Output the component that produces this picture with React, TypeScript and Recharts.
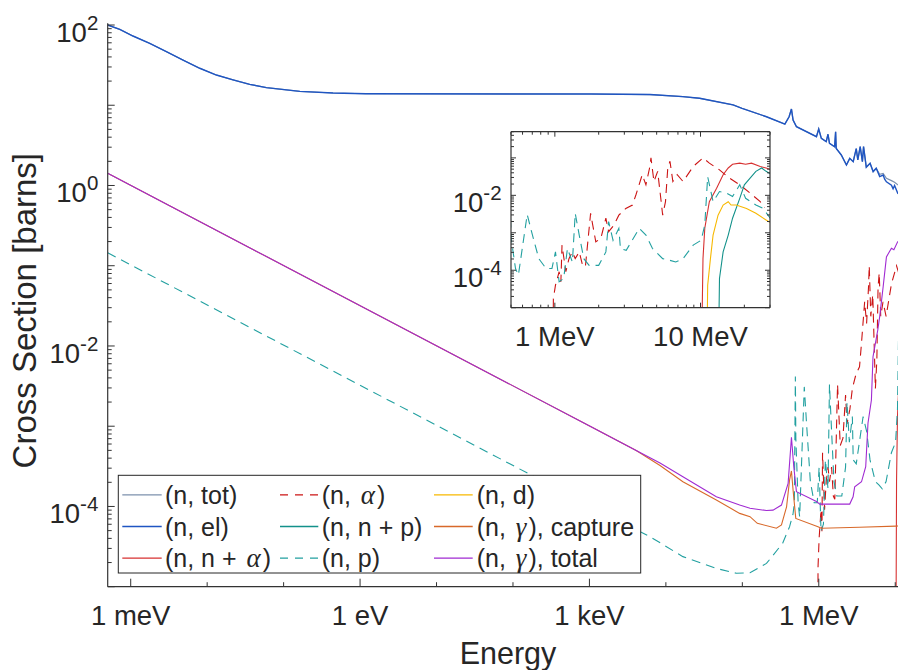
import React from "react";
import { LineChart, Line, XAxis, YAxis, CartesianGrid } from "recharts";

// energies in eV, cross sections in barns
type P = [number, number];

const nEl: P[] = [
  [5e-4, 100], [7.18e-4, 88.3], [1.07e-3, 72.9], [1.77e-3, 59.2], [2.93e-3, 46.5],
  [4.83e-3, 36.6], [8.0e-3, 28.9], [1.32e-2, 23.8], [2.18e-2, 20.7], [3.6e-2, 18.2],
  [5.96e-2, 16.6], [0.163, 14.9], [0.443, 14.2], [1.19, 13.9], [1.05e3, 13.8],
  [6.2e3, 13.6], [1.67e4, 12.8], [2.77e4, 12.2], [7.56e4, 10.1], [9.9e4, 9.16],
  [2.07e5, 7.19], [3.6e5, 5.83], [4.09e5, 7.19], [4.39e5, 8.97], [4.61e5, 6.55],
  [5.1e5, 5.41], [9.32e5, 4.06], [9.98e5, 5.06], [1.08e6, 3.87], [1.25e6, 3.52],
  [1.32e6, 4.35], [1.38e6, 3.36], [1.61e6, 3.04], [1.66e6, 4.68], [1.69e6, 2.9],
  [1.97e6, 2.4], [2.3e6, 1.8], [2.54e6, 2.18], [2.82e6, 1.98], [3.09e6, 2.88],
  [3.24e6, 2.08], [3.48e6, 3.05], [3.72e6, 1.98], [3.85e6, 3.05], [4.18e6, 1.69],
  [4.69e6, 1.89], [5.14e6, 1.49], [5.64e6, 1.64], [6.26e6, 1.29], [6.95e6, 1.35],
  [7.27e6, 1.2], [7.67e6, 1.11], [8.92e6, 1.01], [9.37e6, 0.91], [9.8e6, 1.0],
  [1.078e7, 0.8], [2e7, 0.6],
];

const nTotHigh: P[] = [
  [5.64e6, 1.64], [6.26e6, 1.38], [6.95e6, 1.41], [7.67e6, 1.23], [8.92e6, 1.15],
  [9.8e6, 1.1], [1.078e7, 1.02], [2e7, 0.9],
];

const nNAlpha: P[] = [
  [1.01e7, 1e-7], [1.04e7, 2.04e-4], [1.07e7, 1.32e-3], [1.15e7, 6.76e-3], [1.29e7, 1.55e-2],
  [1.43e7, 3.55e-2], [1.55e7, 5.37e-2], [1.66e7, 6.76e-2], [1.86e7, 7.24e-2], [2.04e7, 6.76e-2],
  [2.24e7, 7.24e-2], [2.57e7, 5.89e-2], [2.82e7, 5.37e-2], [3.09e7, 4.79e-2],
];

const nAlpha: P[] = [
  [9.7e5, 1e-7], [9.77e5, 1.74e-5], [1.01e6, 3.98e-5], [1.07e6, 9.12e-5], [1.1e6, 4.9e-5],
  [1.12e6, 4.68e-4], [1.19e6, 9.12e-5], [1.25e6, 2.04e-4], [1.32e6, 3.09e-4], [1.38e6, 2.04e-4],
  [1.47e6, 3.09e-4], [1.55e6, 1.35e-4], [1.62e6, 1.23e-4], [1.76e6, 3.31e-3], [1.91e6, 5.75e-4],
  [2.07e6, 7.08e-4], [2.24e6, 2.45e-3], [2.34e6, 1.07e-3], [2.55e6, 1.62e-3], [2.75e6, 2.95e-3],
  [3.07e6, 4.47e-3], [3.41e6, 5.5e-3], [3.6e6, 1.02e-2], [3.98e6, 3.55e-2], [4.22e6, 1.91e-2],
  [4.47e6, 5.37e-2], [4.57e6, 0.1], [4.79e6, 2.34e-2], [5.08e6, 4.37e-2], [5.37e6, 6.76e-3],
  [5.5e6, 2.95e-3], [5.75e6, 6.76e-3], [5.96e6, 5.37e-2], [6.17e6, 8.13e-2], [6.46e6, 2.34e-2],
  [6.92e6, 3.55e-2], [7.59e6, 2.34e-2], [8.91e6, 5.89e-2], [1.04e7, 0.1], [1.15e7, 7.24e-2],
  [1.35e7, 4.79e-2], [1.58e7, 2.88e-2], [1.86e7, 1.91e-2], [2.19e7, 1.15e-2], [2.57e7, 6.76e-3],
  [2.75e7, 4.68e-3],
];

const nNP: P[] = [
  [1.32e7, 1e-7], [1.35e7, 6.03e-5], [1.43e7, 3.09e-4], [1.55e7, 8.71e-4], [1.66e7, 2.45e-3],
  [1.86e7, 8.32e-3], [2e7, 1.91e-2], [2.19e7, 2.88e-2], [2.4e7, 4.37e-2], [2.63e7, 5.37e-2],
  [2.82e7, 4.37e-2], [3.09e7, 3.55e-2],
];

const nP: P[] = [
  [5e-4, 0.145], [1.05e3, 1.0e-4], [6.2e3, 4.2e-5], [1.67e4, 2.37e-5], [4.57e4, 1.69e-5],
  [8.38e4, 1.47e-5], [1.26e5, 1.49e-5], [2.07e5, 1.95e-5], [3.37e5, 3.48e-5], [4.15e5, 5.6e-5],
  [4.6e5, 8.0e-5], [4.79e5, 1.1e-4], [4.94e5, 4.17e-3], [5.01e5, 7.08e-4], [5.37e5, 1.11e-4],
  [5.62e5, 7.41e-5], [6.46e5, 3.09e-3], [6.92e5, 1.07e-3], [7.76e5, 2.04e-4], [8.71e5, 1.11e-4],
  [9.55e5, 1.11e-4], [1.01e6, 3.09e-4], [1.07e6, 4.9e-5], [1.15e6, 6.03e-5], [1.22e6, 3.8e-4],
  [1.32e6, 1.66e-4], [1.38e6, 3.31e-3], [1.47e6, 8.71e-4], [1.58e6, 2.04e-4], [1.72e6, 1.35e-4],
  [2.0e6, 1.35e-4], [2.24e6, 3.09e-4], [2.34e6, 2.0e-3], [2.51e6, 6.31e-4], [2.75e6, 1.32e-3],
  [2.82e6, 3.8e-4], [3.09e6, 3.39e-4], [3.8e6, 1.32e-3], [4.22e6, 8.71e-4], [4.68e6, 3.8e-4],
  [5.5e6, 2.04e-4], [6.11e6, 1.86e-4], [6.76e6, 1.66e-4], [7.59e6, 2.04e-4], [8.91e6, 4.68e-4],
  [1.01e7, 6.31e-4], [1.07e7, 1.62e-3], [1.12e7, 3.16e-2], [1.22e7, 6.76e-3], [1.35e7, 1.26e-2],
  [1.51e7, 1.15e-2], [1.66e7, 9.33e-3], [1.86e7, 1.91e-2], [2.04e7, 8.32e-3], [2.4e7, 5.5e-3],
  [2.69e7, 4.47e-3], [3.02e7, 2.4e-3],
];

const nD: P[] = [
  [1.1e7, 1e-7], [1.12e7, 3.98e-5], [1.17e7, 2.04e-4], [1.22e7, 8.71e-4], [1.32e7, 2.95e-3],
  [1.43e7, 5.5e-3], [1.55e7, 6.76e-3], [1.62e7, 5.5e-3], [1.76e7, 5.5e-3], [2.07e7, 4.47e-3],
  [2.4e7, 3.31e-3], [2.82e7, 2.19e-3], [3.09e7, 1.78e-3],
];

const nCapture: P[] = [
  [5e-4, 1.42], [1.05e3, 9.83e-4], [4.09e3, 4.98e-4], [8.38e3, 3.24e-4], [1.67e4, 2.03e-4],
  [4.57e4, 1.2e-4], [9.23e4, 8.2e-5], [1.26e5, 7.45e-5], [1.57e5, 6.17e-5], [2.79e5, 5.35e-5],
  [3.25e5, 5.88e-5], [3.79e5, 9.9e-5], [4.15e5, 2.14e-4], [4.39e5, 2.77e-4], [4.61e5, 1.6e-4],
  [5.0e5, 7.1e-5], [9.76e5, 5.6e-5], [1.08e6, 5.35e-5], [3.4e6, 5.5e-5], [1.02e7, 5.69e-5],
  [2e7, 5.75e-5],
];

const nGammaTot: P[] = [
  [5e-4, 1.42], [1.05e3, 9.83e-4], [4.09e3, 4.98e-4], [8.38e3, 3.47e-4], [1.67e4, 2.34e-4],
  [4.57e4, 1.32e-4], [9.23e4, 1.04e-4], [1.26e5, 9.48e-5], [2.07e5, 8.9e-5], [2.52e5, 9.0e-5],
  [3.25e5, 1.04e-4], [3.97e5, 1.94e-4], [4.39e5, 7.28e-4], [4.71e5, 3.13e-4], [5.1e5, 1.53e-4],
  [9.32e5, 1.15e-4], [1.03e6, 1.07e-4], [2.54e6, 1.07e-4], [2.81e6, 1.32e-4], [2.95e6, 1.76e-4],
  [3.62e6, 2.03e-4], [4.11e6, 3.13e-4], [4.4e6, 1.09e-3], [4.88e6, 2.12e-3], [5.12e6, 7.35e-3],
  [5.91e6, 1.58e-2], [6.26e6, 2.32e-2], [6.95e6, 5.48e-2], [7.67e6, 0.129], [8.92e6, 0.165],
  [9.6e6, 0.158], [1.078e7, 0.2], [2e7, 0.25],
];

const nTot: P[] = nEl.filter((p) => p[0] < 5.5e6).concat(nTotHigh);

const mainXLabelTicks = [1e-3, 1, 1e3, 1e6];
const mainXLabels = ["1 meV", "1 eV", "1 keV", "1 MeV"];
const mainYLabelTicks = [1e2, 1, 1e-2, 1e-4];
const mainYExps = ["2", "0", "-2", "-4"];
const insetXLabelTicks = [1e6, 1e7];
const insetXLabels = ["1 MeV", "10 MeV"];
const insetYLabelTicks = [1e-2, 1e-4];
const insetYExps = ["-2", "-4"];

const FONT = '"Liberation Sans", Arial, Helvetica, sans-serif';
const TEXT = "#262626";
const AXIS = "#333333";
const DASH = "9 6";

const series = [
  { name: "(n, tot)", data: nTot, color: "#7d91ad", dash: false, w: 1.2, inset: false },
  { name: "(n, el)", data: nEl, color: "#1f55c2", dash: false, w: 1.4, inset: false },
  { name: "(n, n + α)", data: nNAlpha, color: "#d73131", dash: false, w: 1.1, inset: true },
  { name: "(n, α)", data: nAlpha, color: "#cc1414", dash: true, w: 1.1, inset: true },
  { name: "(n, n + p)", data: nNP, color: "#13918a", dash: false, w: 1.1, inset: true },
  { name: "(n, p)", data: nP, color: "#22a0a0", dash: true, w: 1.1, inset: true },
  { name: "(n, d)", data: nD, color: "#f7b800", dash: false, w: 1.1, inset: true },
  { name: "(n, γ), capture", data: nCapture, color: "#d8692a", dash: false, w: 1.1, inset: false },
  { name: "(n, γ), total", data: nGammaTot, color: "#a02ad2", dash: false, w: 1.1, inset: false },
];

const toPts = (d: P[]) => d.map(([e, s]) => ({ e, s }));

function logTicks(lo: number, hi: number, decadesOnly: boolean) {
  const out: number[] = [];
  for (let k = Math.floor(Math.log10(lo)); k <= Math.ceil(Math.log10(hi)); k++) {
    for (let m = 1; m <= 9; m++) {
      if (decadesOnly && m > 1) continue;
      const v = m * Math.pow(10, k);
      if (v >= lo * 0.9999 && v <= hi * 1.0001) out.push(v);
    }
  }
  return out;
}

const near = (a: number, b: number) => Math.abs(Math.log10(a) - Math.log10(b)) < 1e-6;
const isDecade = (v: number) => {
  const l = Math.log10(v);
  return Math.abs(l - Math.round(l)) < 1e-6;
};

function xTick(labelTicks: number[], labels: string[], longLen: number, shortLen: number, dir: number, show: boolean) {
  return (props: any) => {
    const { x, y, payload } = props;
    const i = labelTicks.findIndex((t) => near(t, payload.value));
    const len = i >= 0 ? longLen : shortLen;
    return (
      <g>
        <line x1={x} x2={x} y1={y} y2={y + dir * len} stroke={AXIS} strokeWidth={1} />
        {show && i >= 0 && (
          <text x={x} y={y + 38} textAnchor="middle" fontSize={27.5} fill={TEXT} fontFamily={FONT}>
            {labels[i]}
          </text>
        )}
      </g>
    );
  };
}

function yTick(labelTicks: number[], exps: string[], longLen: number, shortLen: number, dir: number, show: boolean) {
  return (props: any) => {
    const { x, y, payload } = props;
    const i = labelTicks.findIndex((t) => near(t, payload.value));
    const len = isDecade(payload.value) ? longLen : shortLen;
    return (
      <g>
        <line x1={x} x2={x + dir * len} y1={y} y2={y} stroke={AXIS} strokeWidth={1} />
        {show && i >= 0 && (
          <text x={x - 9.4} y={y + 17} textAnchor="end" fontSize={27.5} fill={TEXT} fontFamily={FONT}>
            10
            <tspan dy={-12} fontSize={20.5}>
              {exps[i]}
            </tspan>
          </text>
        )}
      </g>
    );
  };
}

function LegendLabel({ text, x, y }: { text: string; x: number; y: number }) {
  const parts = text.split(/([αγ])/);
  return (
    <text x={x} y={y} fontSize={25} fill={TEXT} fontFamily={FONT}>
      {parts.map((p, i) =>
        p === "α" || p === "γ" ? (
          <tspan
            key={i}
            dx={3}
            dy={0}
            fontFamily='"Liberation Serif", "DejaVu Serif", serif'
            fontStyle="italic"
            fontSize={27}
          >
            {p}
          </tspan>
        ) : (
          <tspan key={i} dx={i > 0 ? 2 : 0}>
            {p}
          </tspan>
        )
      )}
    </text>
  );
}

const legendCols = [
  { x1: 122.3, x2: 161.7, tx: 165 },
  { x1: 280, x2: 318.3, tx: 321.7 },
  { x1: 434, x2: 472.7, tx: 476.7 },
];
const legendRows = [494.8, 526.5, 558.2];

// shared props for the thin (1px) log axes whose ticks are drawn inward by hand
const logAxis = {
  type: "number" as const,
  scale: "log" as const,
  allowDataOverflow: true,
  interval: 0,
  tickSize: 0,
  tickMargin: 0,
  tickLine: false,
  axisLine: { stroke: AXIS, strokeWidth: 1.2 },
};

export default function App() {
  const mainXTicks = logTicks(5e-4, 1.5e7, true);
  const mainYTicks = logTicks(1e-5, 105, false);
  const insetXTicks = logTicks(5e5, 3e7, false);
  const insetYTicks = logTicks(1e-5, 0.5, false);

  return (
    <div
      style={{
        position: "fixed",
        left: 0,
        top: 0,
        width: 898,
        height: 670,
        overflow: "hidden",
        background: "#fff",
        fontFamily: FONT,
      }}
    >
      <LineChart width={920} height={670} margin={{ top: 23.3, left: 106.7, right: 11.3, bottom: 82.3 }}>
        <XAxis
          {...logAxis}
          xAxisId="m"
          dataKey="e"
          domain={[5e-4, 1.5e7]}
          ticks={mainXTicks}
          height={1}
          tick={xTick(mainXLabelTicks, mainXLabels, 8, 4.5, -1, true)}
        />
        <YAxis
          {...logAxis}
          yAxisId="m"
          domain={[1e-5, 105]}
          ticks={mainYTicks}
          width={1}
          tick={yTick(mainYLabelTicks, mainYExps, 7, 4, 1, true)}
        />
        {series.map((s) => (
          <Line
            key={s.name}
            xAxisId="m"
            yAxisId="m"
            data={toPts(s.data)}
            dataKey="s"
            type="linear"
            stroke={s.color}
            strokeWidth={s.w}
            strokeDasharray={s.dash ? DASH : undefined}
            dot={false}
            activeDot={false}
            isAnimationActive={false}
          />
        ))}
      </LineChart>

      <div style={{ position: "absolute", left: 440, top: 110 }}>
        <LineChart width={350} height={250} margin={{ top: 20.7, right: 19, bottom: 51.3, left: 70 }}>
          <CartesianGrid xAxisId="ib" yAxisId="il" horizontal={false} vertical={false} fill="#ffffff" />
          <XAxis
            {...logAxis}
            xAxisId="ib"
            dataKey="e"
            domain={[5e5, 3e7]}
            ticks={insetXTicks}
            height={1}
            tick={xTick(insetXLabelTicks, insetXLabels, 5, 3, -1, true)}
          />
          <XAxis
            {...logAxis}
            xAxisId="it"
            orientation="top"
            dataKey="e"
            domain={[5e5, 3e7]}
            ticks={insetXTicks}
            height={1}
            tick={xTick(insetXLabelTicks, insetXLabels, 5, 3, 1, false)}
          />
          <YAxis
            {...logAxis}
            yAxisId="il"
            domain={[1e-5, 0.5]}
            ticks={insetYTicks}
            width={1}
            tick={yTick(insetYLabelTicks, insetYExps, 5, 3, 1, true)}
          />
          <YAxis
            {...logAxis}
            yAxisId="ir"
            orientation="right"
            domain={[1e-5, 0.5]}
            ticks={insetYTicks}
            width={1}
            tick={yTick(insetYLabelTicks, insetYExps, 5, 3, -1, false)}
          />
          {series
            .filter((s) => s.inset)
            .map((s) => (
              <Line
                key={s.name}
                xAxisId="ib"
                yAxisId="il"
                data={toPts(s.data)}
                dataKey="s"
                type="linear"
                stroke={s.color}
                strokeWidth={s.w}
                strokeDasharray={s.dash ? DASH : undefined}
                dot={false}
                activeDot={false}
                isAnimationActive={false}
              />
            ))}
        </LineChart>
      </div>

      <svg
        width={898}
        height={670}
        style={{ position: "absolute", left: 0, top: 0, pointerEvents: "none" }}
      >
        <text
          x={36.5}
          y={310.7}
          transform="rotate(-90 36.5 310.7)"
          textAnchor="middle"
          fontSize={33}
          fill={TEXT}
          fontFamily={FONT}
        >
          Cross Section [barns]
        </text>
        <text x={508} y={664.3} textAnchor="middle" fontSize={30.5} fill={TEXT} fontFamily={FONT}>
          Energy
        </text>
        <rect x={118.3} y={475.3} width={522.4} height={97.7} fill="#fff" stroke={TEXT} strokeWidth={1} />
        {series.map((s, i) => {
          const col = legendCols[Math.floor(i / 3)];
          const row = legendRows[i % 3];
          return (
            <g key={s.name}>
              <line
                x1={col.x1}
                x2={col.x2}
                y1={row}
                y2={row}
                stroke={s.color}
                strokeWidth={1.3}
                strokeDasharray={s.dash ? "8 7" : undefined}
              />
              <LegendLabel text={s.name} x={col.tx} y={row + 9.2} />
            </g>
          );
        })}
      </svg>
    </div>
  );
}
